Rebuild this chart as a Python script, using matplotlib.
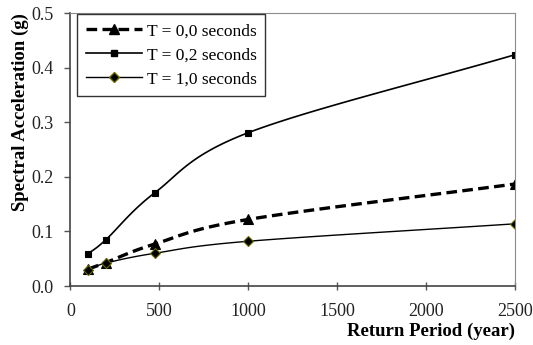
import matplotlib.pyplot as plt
import numpy as np

plt.rcParams['font.family'] = ['Liberation Serif', 'DejaVu Serif']

period = [100, 200, 475, 1000, 2500]
sa_t00 = [0.031, 0.043, 0.077, 0.122, 0.187]
sa_t02 = [0.059, 0.085, 0.171, 0.281, 0.424]
sa_t10 = [0.030, 0.042, 0.060, 0.082, 0.114]
labels = ['T = 0,0 seconds', 'T = 0,2 seconds', 'T = 1,0 seconds']


def smooth(x, y, n=30):
    # catmull-rom curve through the points, like excel's smoothed line
    x = np.asarray(x, float)
    y = np.asarray(y, float)
    px = np.concatenate([[2*x[0]-x[1]], x, [2*x[-1]-x[-2]]])
    py = np.concatenate([[2*y[0]-y[1]], y, [2*y[-1]-y[-2]]])
    t = np.linspace(0, 1, n)
    xs, ys = [], []
    for i in range(1, len(px)-2):
        for p, out in ((px, xs), (py, ys)):
            p0, p1, p2, p3 = p[i-1], p[i], p[i+1], p[i+2]
            out.extend(0.5*((2*p1) + (-p0+p2)*t + (2*p0-5*p1+4*p2-p3)*t**2
                            + (-p0+3*p1-3*p2+p3)*t**3))
    return np.array(xs), np.array(ys)


fig = plt.figure(figsize=(5.33, 3.45), dpi=100)
ax = fig.add_axes([0.132, 0.171, 0.835, 0.791])

styles = [
    dict(ls=(0, (3.2, 1.6)), lw=2.4, marker='^', ms=7),
    dict(ls='-', lw=1.2, marker='s', ms=4.5),
    dict(ls='-', lw=1.0, marker='D', ms=5),
]
series = [sa_t00, sa_t02, sa_t10]
for vals, lab, st in zip(series, labels, styles):
    sx, sy = smooth(period, vals)
    ax.plot(sx, sy, color='black', ls=st['ls'], lw=st['lw'])
    mec = '#6b6b00' if st['marker'] == 'D' else 'black'
    ax.plot(period, vals, ls='none', marker=st['marker'], ms=st['ms'],
            color='black', mec=mec, mew=0.8)
    ax.plot([], [], color='black', ls=st['ls'], lw=st['lw'],
            marker=st['marker'], ms=st['ms'], mec=mec, label=lab)

ax.set_xlim(0, 2500)
ax.set_ylim(0, 0.5)
ax.set_xticks([0, 500, 1000, 1500, 2000, 2500])
ax.set_yticks([0.0, 0.1, 0.2, 0.3, 0.4, 0.5])
ax.set_yticklabels(['0.0', '0.1', '0.2', '0.3', '0.4', '0.5'])
ax.tick_params(labelsize=13, width=1, color='#555555', labelcolor='#222222')
ax.tick_params(axis='x', direction='inout', length=6, pad=9)
ax.tick_params(axis='y', direction='out', length=4, pad=8)

ax.set_xlabel('Return Period (year)', fontsize=13.5, fontweight='bold',
              loc='right', labelpad=2)
ax.set_ylabel('Spectral Acceleration (g)', fontsize=13.5, fontweight='bold',
              loc='top', labelpad=2)

for s in ['top', 'right']:
    ax.spines[s].set_color('#8c8c8c')
for s in ['left', 'bottom']:
    ax.spines[s].set_color('#444444')
    ax.spines[s].set_linewidth(1.2)

leg = ax.legend(loc='upper left', bbox_to_anchor=(0.016, 0.995), fontsize=12.5,
                fancybox=False, edgecolor='#333333', framealpha=1,
                handlelength=3.2, handletextpad=0.3, labelspacing=0.45,
                borderpad=0.5, borderaxespad=0)
leg.get_frame().set_linewidth(1.0)

fig.savefig('out.png', dpi=100)
